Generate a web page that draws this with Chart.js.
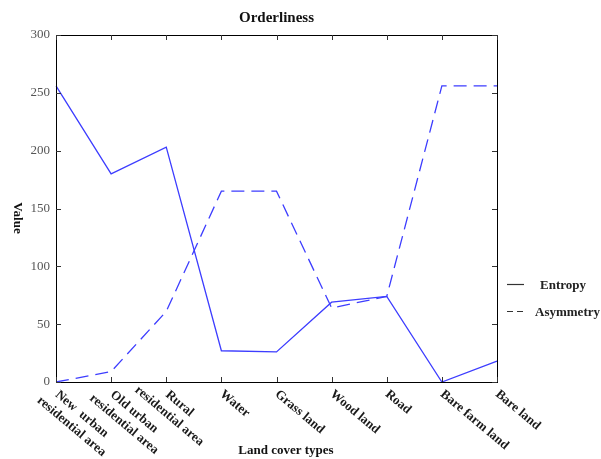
<!DOCTYPE html>
<html>
<head>
<meta charset="utf-8">
<script src="https://cdn.jsdelivr.net/npm/chart.js@4/dist/chart.umd.min.js"></script>
<style>
  html, body { margin: 0; padding: 0; background: #fff; }
  #wrap { width: 601px; height: 459px; }
</style>
</head>
<body>
<div id="wrap"><canvas id="c" width="601" height="459"></canvas></div>
<script>
// Land cover categories (multi-line labels as arrays)
const categories = [
  ['New  urban', 'residential area'],
  ['Old urban', 'residential area'],
  ['Rural', 'residential area'],
  ['Water'],
  ['Grass land'],
  ['Wood land'],
  ['Road'],
  ['Bare farm land'],
  ['Bare land']
];
const entropy   = [256, 180, 203, 27, 26, 69, 74, 0, 18];
const asymmetry = [0, 9, 61, 165, 165, 64, 74, 256, 256];
const yTicks = [0, 50, 100, 150, 200, 250, 300];

const SERIF = "'Liberation Serif', 'Times New Roman', serif";
const LINE_COLOR = '#3d3dff';

// Box, inward tick marks, rotated category labels, titles and legend
const decor = {
  id: 'decor',
  afterDraw(chart) {
    const { ctx, chartArea: a, scales } = chart;
    const xs = scales.x, ys = scales.y;
    ctx.save();
    ctx.strokeStyle = '#000';
    ctx.lineWidth = 1;
    ctx.strokeRect(Math.round(a.left) + 0.5, Math.round(a.top) + 0.5,
                   Math.round(a.right - a.left), Math.round(a.bottom - a.top));
    ctx.strokeStyle = '#333';
    ctx.beginPath();
    categories.forEach((_, i) => {
      const x = Math.round(xs.getPixelForValue(i)) + 0.5;
      ctx.moveTo(x, a.bottom); ctx.lineTo(x, a.bottom - 5);
      ctx.moveTo(x, a.top); ctx.lineTo(x, a.top + 5);
    });
    yTicks.forEach(v => {
      const y = Math.round(ys.getPixelForValue(v)) + 0.5;
      ctx.moveTo(a.left, y); ctx.lineTo(a.left + 5, y);
      ctx.moveTo(a.right, y); ctx.lineTo(a.right - 5, y);
    });
    ctx.stroke();

    // rotated category labels
    ctx.fillStyle = '#1a1a1a';
    ctx.font = 'bold 13px ' + SERIF;
    ctx.textBaseline = 'top';
    const ang = 40 * Math.PI / 180;
    categories.forEach((lines, i) => {
      const x = xs.getPixelForValue(i);
      ctx.save();
      ctx.translate(x, a.bottom + 6);
      ctx.rotate(ang);
      if (lines.length === 1) {
        ctx.textAlign = 'left';
        ctx.fillText(lines[0], 3, -3);
      } else {
        const w1 = ctx.measureText(lines[0]).width;
        const c = 4 + w1 / 2;
        ctx.textAlign = 'center';
        ctx.fillText(lines[0], c, -3);
        ctx.fillText(lines[1], c, 13);
      }
      ctx.restore();
    });

    // titles
    ctx.textAlign = 'center';
    ctx.textBaseline = 'middle';
    ctx.fillStyle = '#111';
    ctx.font = 'bold 15px ' + SERIF;
    ctx.fillText('Orderliness', (a.left + a.right) / 2, 18);
    ctx.font = 'bold 13px ' + SERIF;
    ctx.fillText('Land cover types', 286, 451);
    ctx.save();
    ctx.translate(17, 218);
    ctx.rotate(Math.PI / 2);
    ctx.fillText('Value', 0, 0);
    ctx.restore();

    // legend
    ctx.textAlign = 'left';
    ctx.fillStyle = '#222';
    ctx.strokeStyle = '#333';
    ctx.lineWidth = 1.2;
    ctx.beginPath();
    ctx.moveTo(507, 284.5); ctx.lineTo(524, 284.5);
    ctx.stroke();
    ctx.setLineDash([6, 4]);
    ctx.beginPath();
    ctx.moveTo(507, 311.5); ctx.lineTo(525, 311.5);
    ctx.stroke();
    ctx.setLineDash([]);
    ctx.fillText(chart.data.datasets[0].label, 540, 286);
    ctx.fillText(chart.data.datasets[1].label, 535, 313);
    ctx.restore();
  }
};

new Chart(document.getElementById('c'), {
  type: 'line',
  data: {
    labels: categories,
    datasets: [
      { label: 'Entropy', data: entropy, borderColor: LINE_COLOR, borderWidth: 1.3,
        pointRadius: 0, tension: 0, fill: false },
      { label: 'Asymmetry', data: asymmetry, borderColor: LINE_COLOR, borderWidth: 1.3,
        borderDash: [13, 7], pointRadius: 0, tension: 0, fill: false }
    ]
  },
  options: {
    responsive: false,
    animation: false,
    layout: { padding: { left: 0, right: 104, top: 35, bottom: 77 } },
    plugins: { legend: { display: false }, title: { display: false }, tooltip: { enabled: false } },
    scales: {
      x: {
        type: 'category',
        offset: false,
        grid: { display: false, drawTicks: false },
        border: { display: false },
        ticks: { display: false },
        afterFit(s) { s.height = 0; }
      },
      y: {
        min: 0, max: 300,
        grid: { display: false, drawTicks: false },
        border: { display: false },
        afterBuildTicks(s) { s.ticks = yTicks.map(v => ({ value: v })); },
        ticks: { padding: 6, color: '#555', font: { family: SERIF, size: 13 } },
        afterFit(s) { s.width = 56; }
      }
    }
  },
  plugins: [decor]
});
</script>
</body>
</html>
